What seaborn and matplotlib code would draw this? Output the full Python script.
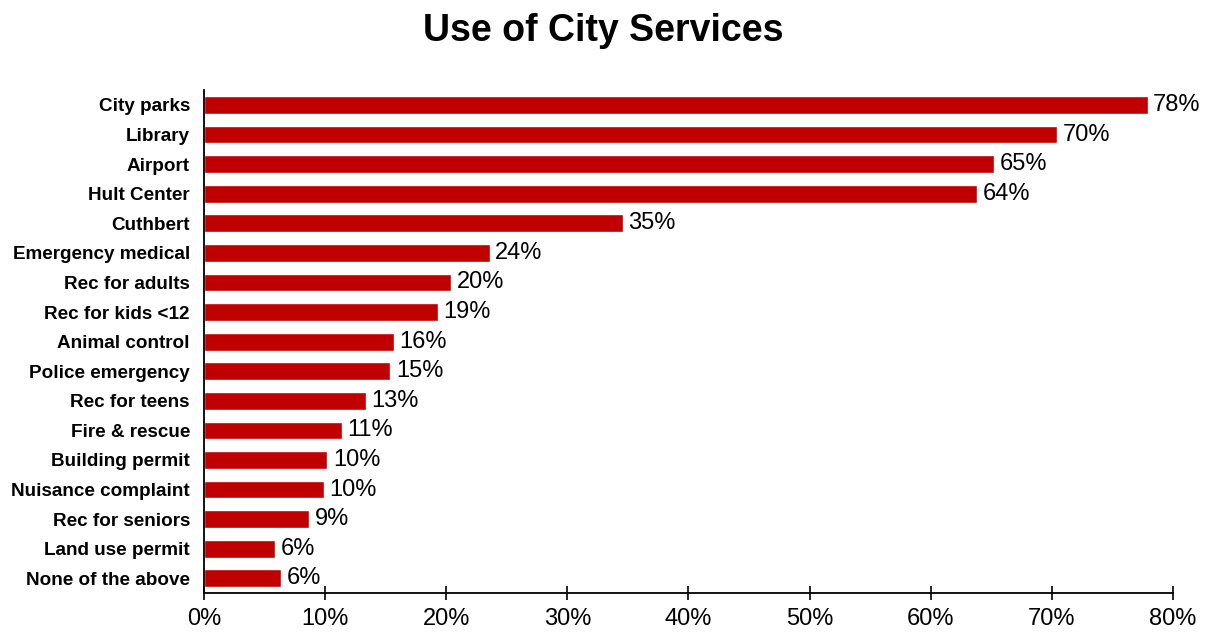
import matplotlib
matplotlib.use("Agg")
import matplotlib.pyplot as plt
import seaborn as sns
import pandas as pd

services = [
    "City parks", "Library", "Airport", "Hult Center", "Cuthbert",
    "Emergency medical", "Rec for adults", "Rec for kids <12", "Animal control",
    "Police emergency", "Rec for teens", "Fire & rescue", "Building permit",
    "Nuisance complaint", "Rec for seniors", "Land use permit", "None of the above",
]
usage_pct = [
    77.9, 70.4, 65.2, 63.8, 34.6,
    23.6, 20.4, 19.3, 15.7,
    15.4, 13.4, 11.4, 10.2,
    9.9, 8.7, 5.9, 6.4,
]
x_ticks = [0, 10, 20, 30, 40, 50, 60, 70, 80]

df = pd.DataFrame({"service": services, "pct": usage_pct})

sns.set_theme(style="white")
plt.rcParams["font.family"] = ["Liberation Sans", "DejaVu Sans"]
plt.rcParams["text.color"] = "black"
plt.rcParams["xtick.color"] = "black"
plt.rcParams["ytick.color"] = "black"
plt.rcParams["axes.labelcolor"] = "black"

fig = plt.figure(figsize=(12.06, 6.35), dpi=100)
ax = fig.add_axes([0.169, 0.066, 0.8037, 0.792])

sns.barplot(data=df, y="service", x="pct", orient="h", color="#C00000",
            saturation=1, width=0.6, ax=ax)

labels = [f"{round(v)}%" for v in usage_pct]
ax.bar_label(ax.containers[0], labels=labels, padding=4, fontsize=17, color="black")

ax.set_xlim(0, 80)
ax.set_ylim(len(services) - 0.5, -0.5)
ax.set_xticks(x_ticks)
ax.set_xticklabels([f"{t}%" for t in x_ticks], fontsize=17)
ax.set_xlabel("")
ax.set_ylabel("")
for lbl in ax.get_yticklabels():
    lbl.set_fontweight("bold")
    lbl.set_fontsize(13.6)

ax.tick_params(axis="x", direction="inout", length=10, width=1.2, color="black",
               labelcolor="black", bottom=True, pad=6)
ax.tick_params(axis="y", left=False, length=0, pad=10, labelcolor="black")

for side in ["top", "right"]:
    ax.spines[side].set_visible(False)
for side in ["left", "bottom"]:
    ax.spines[side].set_color("black")
    ax.spines[side].set_linewidth(1.3)

fig.suptitle("Use of City Services", fontsize=27, fontweight="bold",
             color="black", y=0.98)

fig.savefig("out.png", dpi=100, facecolor="white")
